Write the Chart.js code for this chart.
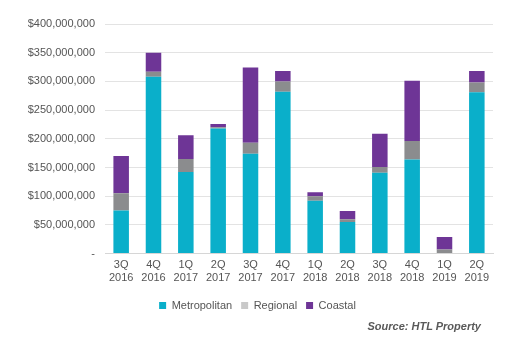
<!DOCTYPE html>
<html>
<head>
<meta charset="utf-8">
<script src="https://cdn.jsdelivr.net/npm/chart.js@4/dist/chart.umd.min.js"></script>
<style>
  body { margin: 0; background: #fff; }
  #wrap { position: relative; width: 525px; height: 350px; }
  #source {
    position: absolute; right: 44px; top: 320px;
    font: italic bold 11px "Liberation Sans", Arial, sans-serif; color: #595959;
  }
</style>
</head>
<body>
<div id="wrap">
  <canvas id="chart1" width="525" height="350"></canvas>
  <div id="source">Source: HTL Property</div>
</div>
<script>
const quarters = [['3Q', '2016'], ['4Q', '2016'], ['1Q', '2017'], ['2Q', '2017'], ['3Q', '2017'], ['4Q', '2017'],
                  ['1Q', '2018'], ['2Q', '2018'], ['3Q', '2018'], ['4Q', '2018'], ['1Q', '2019'], ['2Q', '2019']]
// values in $ millions
const metropolitan = [75, 308, 142, 218, 174, 282, 92, 55, 141, 164, 0, 281]
const regional     = [30, 9, 23, 2, 19, 18, 8, 5, 10, 32, 7, 17]
const coastal      = [65, 33, 41, 6, 131, 18, 7, 14, 58, 105, 22, 20]

const legendColors = ['#0aafca', '#c9c9c9', '#6e3596']
const grey = '#555555'
const font = { family: '"Liberation Sans", Arial, sans-serif', size: 11 }

const toDollars = arr => arr.map(v => v * 1000000)

generateChart = (id, config) => new Chart(document.getElementById(id), config)

generateChart('chart1', {
    type: 'bar',
    data: {
        labels: quarters,
        datasets: [
            { label: 'Metropolitan', data: toDollars(metropolitan), backgroundColor: '#0aafca' },
            { label: 'Regional', data: toDollars(regional), backgroundColor: '#8b8c8e' },
            { label: 'Coastal', data: toDollars(coastal), backgroundColor: '#6e3596' }
        ]
    },
    options: {
        responsive: false,
        animation: false,
        barPercentage: 0.48,
        categoryPercentage: 1,
        layout: { padding: { top: 24, right: 32, bottom: 29, left: 22 } },
        plugins: {
            tooltip: { enabled: false },
            legend: {
                position: 'bottom',
                labels: {
                    color: grey,
                    font: font,
                    boxWidth: 7,
                    boxHeight: 7,
                    padding: 9,
                    generateLabels: chart => Chart.defaults.plugins.legend.labels.generateLabels(chart)
                        .map((l, i) => Object.assign(l, { fillStyle: legendColors[i], strokeStyle: legendColors[i], lineWidth: 0 }))
                }
            }
        },
        scales: {
            x: {
                stacked: true,
                grid: { display: false, drawTicks: false },
                border: { color: '#d6d6d6' },
                ticks: { color: grey, font: font, padding: 5, maxRotation: 0 },
                afterFit: s => { s.height += 1 }
            },
            y: {
                stacked: true,
                min: 0,
                max: 400000000,
                grid: { color: '#e3e3e3', drawTicks: false },
                border: { display: false },
                ticks: {
                    stepSize: 50000000,
                    color: grey,
                    font: font,
                    padding: 10,
                    callback: v => v === 0 ? '-' : '$' + v.toLocaleString('en-US')
                },
                afterFit: s => { s.width = 83 }
            }
        }
    }
})
</script>
</body>
</html>
